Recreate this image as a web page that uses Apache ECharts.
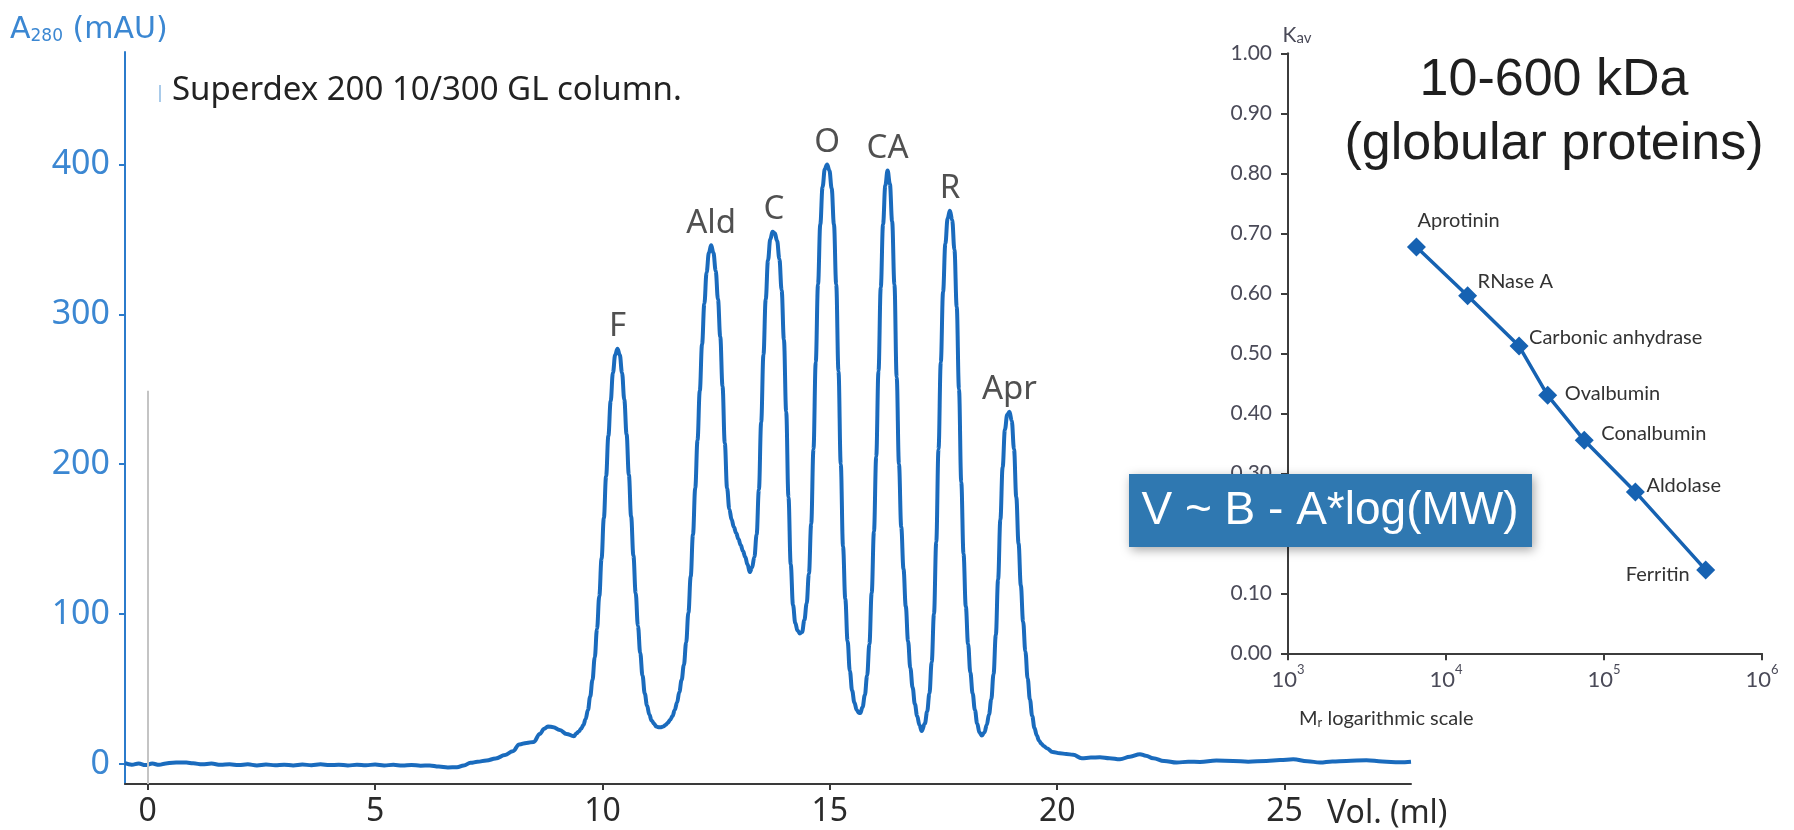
<!DOCTYPE html>
<html><head><meta charset="utf-8">
<script src="https://cdn.jsdelivr.net/npm/echarts@6/dist/echarts.min.js"></script>
<style>html,body{margin:0;padding:0;background:#fff}#c{width:1794px;height:830px}</style>
</head><body><div id="c"></div>
<script>
// ---- Chromatogram (main panel): [volume ml, A280 mAU] ----
const traceBaseline = [[-0.50,0.5],[-0.35,-0.5],[-0.20,0.3],[-0.05,-0.8],[0.10,0.2],[0.25,-0.6],[0.40,0.3],[0.55,0.8],
 [0.70,1.0],[0.85,0.9],[1.00,0.4],[1.20,-0.3],[1.40,0.2],[1.60,-0.6],[1.80,-0.2],[2.00,-0.8],[2.20,-0.3],[2.40,-1.0],
 [2.60,-0.4],[2.80,-0.9],[3.00,-0.5],[3.20,-1.0],[3.40,-0.4],[3.60,-0.9],[3.80,-0.3],[4.00,-0.8],[4.20,-0.5],[4.40,-1.0],
 [4.60,-0.6],[4.80,-0.9],[5.00,-0.4],[5.20,-1.0],[5.40,-0.6],[5.60,-1.1],[5.80,-0.7],[6.00,-1.2],[6.20,-1.0],[6.40,-1.8],
 [6.60,-2.4],[6.80,-2.2],[6.95,-1.0],[7.10,0.7],[7.25,1.4],[7.45,2.3],[7.65,3.6],[7.86,6.0],[8.03,8.5],[8.17,13.0],
 [8.33,14.0],[8.49,14.7],[8.62,20.0],[8.72,23.5],[8.80,25.0],[8.92,24.5],[9.06,22.6],[9.21,20.0],[9.37,18.5]];
const tracePeakF = [[9.43,20.5],[9.48,21.6],[9.53,23.4],[9.58,26],[9.63,30],[9.68,36],[9.73,45],[9.78,56],[9.83,71],
 [9.88,90],[9.93,112],[9.98,137],[10.03,164],[10.08,192],[10.13,219],[10.18,242],[10.23,261],[10.28,273],[10.33,277],
 [10.38,273],[10.43,261],[10.48,243],[10.53,220],[10.58,193],[10.63,165],[10.68,139],[10.73,114],[10.78,92],[10.83,74],
 [10.88,59],[10.93,47],[10.98,39],[11.03,33],[11.08,29],[11.13,27],[11.18,25],[11.23,24.5]];
const tracePeakAld = [[11.29,24.5],[11.34,25],[11.39,26],[11.44,27.5],[11.49,29.5],[11.54,32],[11.59,36],[11.64,41],
 [11.69,48],[11.74,56],[11.79,66],[11.84,81],[11.89,101],[11.94,125],[11.99,153],[12.04,184],[12.09,216],[12.14,249],
 [12.19,280],[12.24,307],[12.29,328],[12.34,341],[12.39,346],[12.44,341],[12.49,329],[12.54,310],[12.59,285],[12.64,252],
 [12.69,214],[12.74,184],[12.79,170],[12.84,163],[12.89,158],[12.94,154],[12.99,150],[13.04,146],[13.09,142],[13.14,138],
 [13.19,133],[13.24,128]];
const tracePeakC = [[13.29,131],[13.34,138],[13.39,153],[13.44,183],[13.49,228],[13.54,273],[13.59,310],[13.64,336],
 [13.69,350],[13.74,355],[13.79,354],[13.84,349],[13.89,337],[13.94,316],[13.99,283],[14.04,235],[14.09,178],[14.14,133],
 [14.19,106],[14.24,94],[14.29,89],[14.34,87],[14.39,88]];
const tracePeakO = [[14.44,96],[14.49,107],[14.54,127],[14.59,160],[14.64,210],[14.69,268],[14.74,320],[14.79,360],
 [14.84,385],[14.89,397],[14.94,400],[14.99,396],[15.04,384],[15.09,360],[15.14,320],[15.19,262],[15.24,200],[15.29,145],
 [15.34,110],[15.39,82],[15.44,62],[15.49,49],[15.54,41],[15.59,36],[15.64,34]];
const tracePeakCA = [[15.67,34],[15.72,38],[15.77,46],[15.82,59],[15.87,80],[15.92,114],[15.97,155],[16.02,205],
 [16.07,262],[16.12,318],[16.17,360],[16.22,386],[16.27,396],[16.32,387],[16.37,362],[16.42,320],[16.47,258],[16.52,200],
 [16.57,158],[16.62,130],[16.67,105],[16.72,82],[16.77,64],[16.82,51],[16.87,40],[16.92,32],[16.97,26],[17.02,22]];
const tracePeakR = [[17.09,27],[17.14,35],[17.19,47],[17.24,68],[17.29,100],[17.34,148],[17.39,210],[17.44,268],
 [17.49,315],[17.54,347],[17.59,364],[17.64,369],[17.69,363],[17.74,343],[17.79,305],[17.84,250],[17.89,188],[17.94,140],
 [17.99,105],[18.04,80],[18.09,61],[18.14,47],[18.19,36],[18.24,27],[18.29,21],[18.34,19]];
const tracePeakApr = [[18.40,21],[18.45,26],[18.50,33],[18.55,43],[18.60,60],[18.65,86],[18.70,123],[18.75,163],
 [18.80,198],[18.85,223],[18.90,233],[18.95,235],[19.00,229],[19.05,210],[19.10,178],[19.15,147],[19.20,119],[19.25,95],
 [19.30,75],[19.35,57],[19.40,43],[19.45,32],[19.50,24],[19.55,19],[19.60,15.5],[19.65,13.5],[19.70,12],[19.77,10.5]];
const traceTail = [[19.90,8],[20.06,7.1],[20.20,6.6],[20.35,6.1],[20.54,3.8],[20.74,4.2],[20.94,4.5],[21.15,3.8],
 [21.38,3.1],[21.60,4.8],[21.82,6.5],[21.95,5.5],[22.11,3.8],[22.35,2.0],[22.63,0.9],[22.88,1.5],[23.14,1.3],[23.50,2.2],
 [23.87,2.0],[24.20,1.5],[24.60,2.0],[24.90,2.6],[25.19,3.1],[25.50,1.8],[25.78,0.9],[26.05,1.6],[26.36,2.0],[26.80,2.5],
 [27.15,1.6],[27.53,1.1],[27.78,1.5]];

const peakNames  = ['F','Ald','C','O','CA','R','Apr'];
const peakVolume = [10.33,12.39,13.77,14.94,16.27,17.64,18.95];
const peakHeight = [277,346,355,400,396,369,235];
const volTicks = [0,5,10,15,20,25];
const absTicks = [0,100,200,300,400];
const injectionMarkTop = 249;

// ---- Calibration curve (inset) ----
const proteins  = ['Aprotinin','RNase A','Carbonic anhydrase','Ovalbumin','Conalbumin','Aldolase','Ferritin'];
const molWeight = [6500,13700,29000,44000,75000,158000,440000];
const kav       = [0.677,0.596,0.512,0.430,0.355,0.269,0.139];
const mwTicks   = [1e3,1e4,1e5,1e6];

// label placement (style, not data)
const labelPlace = [
  {align:'left',  offset:[1,-27]},
  {align:'left',  offset:[10,-14]},
  {align:'left',  offset:[10,-9]},
  {align:'left',  offset:[17,-2]},
  {align:'left',  offset:[17,-7]},
  {align:'left',  offset:[11,-6]},
  {align:'right', offset:[-16,5]}
];

const trace = [].concat(traceBaseline, tracePeakF, tracePeakAld, tracePeakC, tracePeakO,
                        tracePeakCA, tracePeakR, tracePeakApr, traceTail);

const MAIN_FONT = 'Noto Sans';
const INSET_FONT = 'Lato';
const insetGrey = '#4a4a58';
const yMin = -13.4, yMax = 475;

const chart = echarts.init(document.getElementById('c'), null, {renderer:'canvas'});
chart.setOption({
  backgroundColor:'#ffffff',
  animation:false,
  grid:[
    {left:125, top:52, width:1286, height:732, containLabel:false, outerBoundsMode:'none'},
    {left:1288, top:53.3, width:474, height:600, containLabel:false, outerBoundsMode:'none'}
  ],
  xAxis:[
    {type:'value', gridIndex:0, min:-0.5, max:27.78,
     axisLine:{show:true, onZero:false, lineStyle:{color:'#3a3a3a', width:2}},
     axisTick:{show:true, length:6, customValues:volTicks, lineStyle:{color:'#3a3a3a', width:2}},
     axisLabel:{show:true, customValues:volTicks, fontSize:32, color:'#2a2a2a', fontFamily:MAIN_FONT, margin:12},
     splitLine:{show:false}},
    {type:'log', logBase:10, gridIndex:1, min:1e3, max:1e6,
     axisLine:{show:true, onZero:false, lineStyle:{color:'#3c3c3c', width:2}},
     axisTick:{show:true, length:7, customValues:mwTicks, lineStyle:{color:'#3c3c3c', width:2}},
     axisLabel:{show:true, customValues:mwTicks, margin:10,
       formatter:function(v){return '{b|10}{e|'+Math.round(Math.log10(v))+'}';},
       rich:{b:{fontSize:22, color:insetGrey, fontFamily:INSET_FONT, lineHeight:28, verticalAlign:'bottom'},
             e:{fontSize:13, color:insetGrey, fontFamily:INSET_FONT, lineHeight:14, verticalAlign:'top'}}},
     splitLine:{show:false}, minorTick:{show:false}}
  ],
  yAxis:[
    {type:'value', gridIndex:0, min:yMin, max:yMax,
     axisLine:{show:true, onZero:false, lineStyle:{color:'#2b7bcb', width:2}},
     axisTick:{show:true, length:6, customValues:absTicks, lineStyle:{color:'#2b7bcb', width:2}},
     axisLabel:{show:true, customValues:absTicks, fontSize:34, color:'#3b87d2', fontFamily:MAIN_FONT, margin:15},
     splitLine:{show:false}},
    {type:'value', gridIndex:1, min:0, max:1, interval:0.1,
     axisLine:{show:true, onZero:false, lineStyle:{color:'#3c3c3c', width:2}},
     axisTick:{show:true, length:7, lineStyle:{color:'#3c3c3c', width:2}},
     axisLabel:{show:true, fontSize:21, color:insetGrey, fontFamily:INSET_FONT, margin:16,
       formatter:function(v){return v.toFixed(2);}},
     splitLine:{show:false}}
  ],
  series:[
    {type:'line', xAxisIndex:0, yAxisIndex:0, z:3,
     data: trace,
     showSymbol:false, symbol:'none', smooth:0.4, smoothMonotone:'x',
     lineStyle:{color:'#1a6bbd', width:4},
     markLine:{silent:true, symbol:'none', label:{show:false},
       lineStyle:{color:'#c4c4c4', width:2, type:'solid'},
       data:[[{coord:[0,yMin]},{coord:[0,injectionMarkTop]}]]}},
    {type:'scatter', xAxisIndex:0, yAxisIndex:0, silent:true, z:4,
     symbolSize:0,
     data: peakVolume.map(function(v,i){return {value:[v, peakHeight[i]], name:peakNames[i]};}),
     label:{show:true, position:'inside', offset:[0,-22], formatter:'{b}',
       fontSize:33, color:'#242424', fontFamily:MAIN_FONT}},
    {type:'line', xAxisIndex:1, yAxisIndex:1, z:5,
     data: molWeight.map(function(m,i){
       return {value:[m, kav[i]], name:proteins[i],
         label:{align:labelPlace[i].align, offset:labelPlace[i].offset}};}),
     symbol:'diamond', symbolSize:19,
     lineStyle:{color:'#1662b2', width:3.5},
     itemStyle:{color:'#1662b2'},
     label:{show:true, position:'inside', formatter:'{b}', fontSize:20, color:'#333', fontFamily:INSET_FONT}}
  ],
  graphic:[
    {type:'text', x:10, y:27, z:10, style:{
      text:'{a|A}{s|280}{a| (mAU)}', verticalAlign:'middle', align:'left',
      rich:{a:{fontSize:30, fill:'#3b87d2', fontFamily:'DejaVu Sans', lineHeight:36, verticalAlign:'bottom'},
            s:{fontSize:17, fill:'#3b87d2', fontFamily:'DejaVu Sans', lineHeight:16, verticalAlign:'bottom'}}}},
    {type:'rect', z:10, shape:{x:159, y:85, width:2, height:17}, style:{fill:'#a9cbea'}},
    {type:'text', x:172, y:91, z:10, style:{text:'Superdex 200 10/300 GL column.', fill:'#222',
      fontSize:33, fontFamily:MAIN_FONT, align:'left', verticalAlign:'middle'}},
    {type:'text', x:1327, y:814, z:10, style:{text:'Vol. (ml)', fill:'#2a2a2a',
      fontSize:32, fontFamily:MAIN_FONT, align:'left', verticalAlign:'middle'}},
    {type:'text', x:1297, y:34, z:10, style:{
      text:'{k|K}{s|av}', align:'center', verticalAlign:'middle',
      rich:{k:{fontSize:21, fill:insetGrey, fontFamily:INSET_FONT, lineHeight:24, verticalAlign:'bottom'},
            s:{fontSize:15, fill:insetGrey, fontFamily:INSET_FONT, lineHeight:14, verticalAlign:'bottom'}}}},
    {type:'text', x:1299, y:717, z:10, style:{
      text:'{m|M}{s|r}{m| logarithmic scale}', align:'left', verticalAlign:'middle',
      rich:{m:{fontSize:20, fill:'#333', fontFamily:INSET_FONT, lineHeight:24, verticalAlign:'bottom'},
            s:{fontSize:13, fill:'#333', fontFamily:INSET_FONT, lineHeight:12, verticalAlign:'bottom'}}}},
    {type:'text', x:1554, y:81, z:10, style:{text:'10-600 kDa', fill:'#1f1f1f',
      fontSize:52, fontFamily:'Liberation Sans', align:'center', verticalAlign:'middle'}},
    {type:'text', x:1554, y:145, z:10, style:{text:'(globular proteins)', fill:'#1f1f1f',
      fontSize:52, fontFamily:'Liberation Sans', align:'center', verticalAlign:'middle'}},
    {type:'rect', z:100, shape:{x:1129, y:474, width:403, height:73},
      style:{fill:'#2f78b1', shadowBlur:10, shadowColor:'rgba(0,0,0,0.35)', shadowOffsetX:2, shadowOffsetY:3}},
    {type:'text', x:1330, y:511, z:101, style:{text:'V ~ B - A*log(MW)', fill:'#ffffff',
      fontSize:46, fontFamily:'Liberation Sans', align:'center', verticalAlign:'middle'}}
  ]
});
</script>
</body></html>
